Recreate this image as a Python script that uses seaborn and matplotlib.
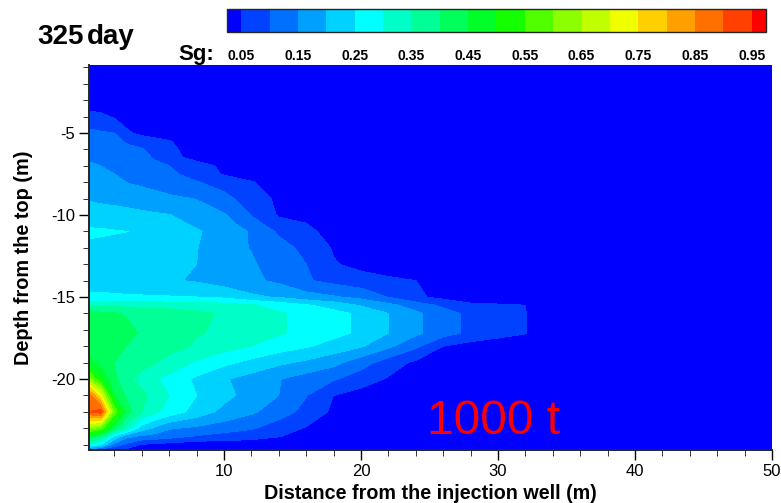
import numpy as np
import seaborn as sns
import matplotlib.pyplot as plt
from matplotlib.colors import ListedColormap, BoundaryNorm
from matplotlib.ticker import MultipleLocator

# gas saturation, one list per depth
dist = [0.15, 1, 2, 3, 4, 5, 6, 8, 10, 12, 14, 16, 18, 20, 22, 24, 26, 28, 30, 32, 33, 50]
depth = [-0.85, -3.5, -4, -5, -5.5, -6, -6.5, -7, -7.5, -8, -9, -10, -10.5, -11, -12, -13, -14, -15, -15.5, -16,
         -17.2, -18, -19, -20, -21, -22, -23, -23.5, -24, -24.33]

d00 = [.02, .02, .02, .02, .02, .02, .02, .02, .02, .02, .02, .02, .02, .02, .02, .02, .02, .02, .02, .02, .02, .02]
d03 = [.04, .04, .03, .02, .02, .02, .02, .02, .02, .02, .02, .02, .02, .02, .02, .02, .02, .02, .02, .02, .02, .02]
d04 = [.07, .06, .045, .03, .02, .02, .02, .02, .02, .02, .02, .02, .02, .02, .02, .02, .02, .02, .02, .02, .02, .02]
d05 = [.11, .105, .10, .055, .04, .035, .03, .02, .02, .02, .02, .02, .02, .02, .02, .02, .02, .02, .02, .02, .02, .02]
d055 = [.125, .12, .115, .09, .07, .06, .052, .03, .02, .02, .02, .02, .02, .02, .02, .02, .02, .02, .02, .02, .02, .02]
d06 = [.135, .13, .125, .115, .105, .08, .055, .04, .02, .02, .02, .02, .02, .02, .02, .02, .02, .02, .02, .02, .02, .02]
d065 = [.145, .14, .132, .122, .112, .095, .065, .035, .02, .02, .02, .02, .02, .02, .02, .02, .02, .02, .02, .02, .02, .02]
d07 = [.155, .15, .14, .13, .12, .11, .10, .07, .04, .02, .02, .02, .02, .02, .02, .02, .02, .02, .02, .02, .02, .02]
d075 = [.168, .16, .15, .14, .13, .12, .11, .08, .045, .03, .02, .02, .02, .02, .02, .02, .02, .02, .02, .02, .02, .02]
d08 = [.18, .17, .16, .148, .14, .13, .12, .103, .08, .053, .03, .02, .02, .02, .02, .02, .02, .02, .02, .02, .02, .02]
d09 = [.195, .19, .185, .18, .175, .17, .16, .148, .115, .075, .04, .02, .02, .02, .02, .02, .02, .02, .02, .02, .02, .02]
d10 = [.225, .222, .22, .215, .21, .205, .202, .175, .155, .098, .045, .03, .02, .02, .02, .02, .02, .02, .02, .02, .02, .02]
d105 = [.24, .24, .235, .233, .228, .222, .216, .19, .168, .12, .065, .05, .03, .02, .02, .02, .02, .02, .02, .02, .02, .02]
d11 = [.258, .256, .253, .25, .245, .24, .23, .205, .18, .145, .092, .06, .035, .02, .02, .02, .02, .02, .02, .02, .02, .02]
d12 = [.24, .238, .235, .23, .225, .22, .215, .202, .165, .148, .118, .087, .045, .025, .02, .02, .02, .02, .02, .02, .02, .02]
d13 = [.235, .233, .23, .225, .22, .215, .21, .20, .17, .155, .13, .10, .054, .035, .02, .02, .02, .02, .02, .02, .02, .02]
d14 = [.225, .225, .22, .22, .215, .21, .205, .195, .175, .16, .14, .105, .085, .07, .06, .05, .02, .02, .02, .02, .02, .02]
d15 = [.26, .26, .258, .256, .255, .254, .253, .25, .24, .21, .195, .17, .155, .135, .098, .06, .035, .02, .02, .02, .02, .02]
d155 = [.34, .34, .34, .335, .33, .33, .33, .325, .32, .305, .28, .255, .23, .195, .165, .125, .09, .06, .055, .05, .02, .02]
d16 = [.43, .41, .405, .395, .385, .38, .375, .36, .345, .325, .305, .287, .265, .24, .20, .16, .12, .088, .068, .052, .02, .02]
d17 = [.44, .435, .425, .41, .395, .38, .37, .352, .345, .322, .305, .287, .265, .24, .20, .16, .12, .088, .068, .052, .02, .02]
d18 = [.44, .43, .41, .398, .385, .375, .365, .345, .32, .30, .275, .255, .23, .205, .16, .11, .05, .03, .02, .02, .02, .02]
d19 = [.46, .43, .40, .38, .365, .352, .335, .293, .262, .235, .21, .19, .165, .12, .075, .04, .02, .02, .02, .02, .02, .02]
d20 = [.62, .50, .41, .36, .333, .305, .285, .24, .205, .18, .152, .128, .105, .075, .045, .03, .02, .02, .02, .02, .02, .02]
d21 = [.88, .72, .45, .385, .36, .335, .30, .25, .215, .18, .15, .102, .05, .03, .02, .02, .02, .02, .02, .02, .02, .02]
d22 = [.90, .93, .58, .42, .35, .31, .28, .23, .185, .158, .123, .085, .04, .02, .02, .02, .02, .02, .02, .02, .02, .02]
d23 = [.62, .58, .42, .32, .225, .19, .155, .14, .125, .105, .075, .046, .03, .02, .02, .02, .02, .02, .02, .02, .02, .02]
d235 = [.45, .39, .24, .16, .14, .13, .12, .095, .08, .07, .052, .03, .02, .02, .02, .02, .02, .02, .02, .02, .02, .02]
d24 = [.30, .25, .13, .085, .045, .04, .03, .02, .02, .02, .02, .02, .02, .02, .02, .02, .02, .02, .02, .02, .02, .02]
d243 = [.10, .08, .04, .03, .02, .02, .02, .02, .02, .02, .02, .02, .02, .02, .02, .02, .02, .02, .02, .02, .02, .02]

levels = [0, .05, .1, .15, .2, .25, .3, .35, .4, .45, .5, .55, .6, .65, .7, .75, .8, .85, .9, .95, 1]
sg_colors = ['#0000ff', '#0042ff', '#0070ff', '#00a0ff', '#00d2ff', '#00ffff', '#00ffc8', '#00ff96',
             '#00ff5a', '#00ff28', '#14ff00', '#50ff00', '#8cff00', '#c0ff00', '#f0ff00', '#ffd000',
             '#ffa000', '#ff7000', '#ff4000', '#ff0000']
bar_ticks = [.05, .15, .25, .35, .45, .55, .65, .75, .85, .95]

sns.set_style('ticks')
plt.rcParams['font.family'] = ['Liberation Sans', 'DejaVu Sans']
plt.rcParams['text.color'] = 'black'
plt.rcParams['axes.labelcolor'] = 'black'

sg = np.array([d00, d03, d04, d05, d055, d06, d065, d07, d075, d08, d09, d10, d105, d11, d12, d13, d14, d15, d155,
               d16, d17, d18, d19, d20, d21, d22, d23, d235, d24, d243])
cmap = ListedColormap(sns.color_palette(sg_colors))
norm = BoundaryNorm(levels, cmap.N)

fig = plt.figure(figsize=(7.81, 5.03), dpi=100)
ax = fig.add_axes([89/781, 1-450/503, (772-89)/781, (450-65)/503])
cf = ax.contourf(dist, depth, sg, levels=levels, cmap=cmap, norm=norm)
ax.set_xlim(0.15, 50)
ax.set_ylim(-24.33, -0.85)
ax.set_xticks([10, 20, 30, 40, 50])
ax.set_yticks([-5, -10, -15, -20])
ax.set_yticklabels(['-5', '-10', '-15', '-20'])
ax.xaxis.set_minor_locator(MultipleLocator(2))
ax.yaxis.set_minor_locator(MultipleLocator(1))
ax.tick_params(which='major', length=7, width=1, labelsize=12, colors='black', pad=3)
ax.tick_params(which='minor', length=4, width=0.7, colors='#333333')
ax.spines['top'].set_visible(False)
ax.spines['right'].set_visible(False)
ax.spines['left'].set_linewidth(1.4)
ax.spines['bottom'].set_linewidth(1.4)
ax.set_xlabel('Distance from the injection well (m)', fontsize=14.2, fontweight='bold', labelpad=4)
ax.set_ylabel('Depth from the top (m)', fontsize=14.3, fontweight='bold', labelpad=13)
ax.text(29.7, -23.35, '1000 t', color='red', fontsize=34.5, ha='center', va='baseline')

cax = fig.add_axes([227/781, 1-32/503, (766-227)/781, 23/503])
cb = fig.colorbar(cf, cax=cax, orientation='horizontal', spacing='proportional', ticks=bar_ticks)
cax.set_xlim(.025, .975)
cax.set_xticklabels(['%.2f' % t for t in bar_ticks], fontsize=10, fontweight='bold', color='black')
cax.tick_params(axis='x', which='major', direction='in', length=16.5, width=0.9, pad=12, colors='black')
cax.minorticks_off()
cb.outline.set_linewidth(1)

fig.text(37/781, 1-44/503, '325', fontsize=20, fontweight='bold')
fig.text(87/781, 1-44/503, 'day', fontsize=20, fontweight='bold')
fig.text(178/781, 1-60/503, 'Sg:', fontsize=16, fontweight='bold')

fig.savefig('out.png', dpi=100)
